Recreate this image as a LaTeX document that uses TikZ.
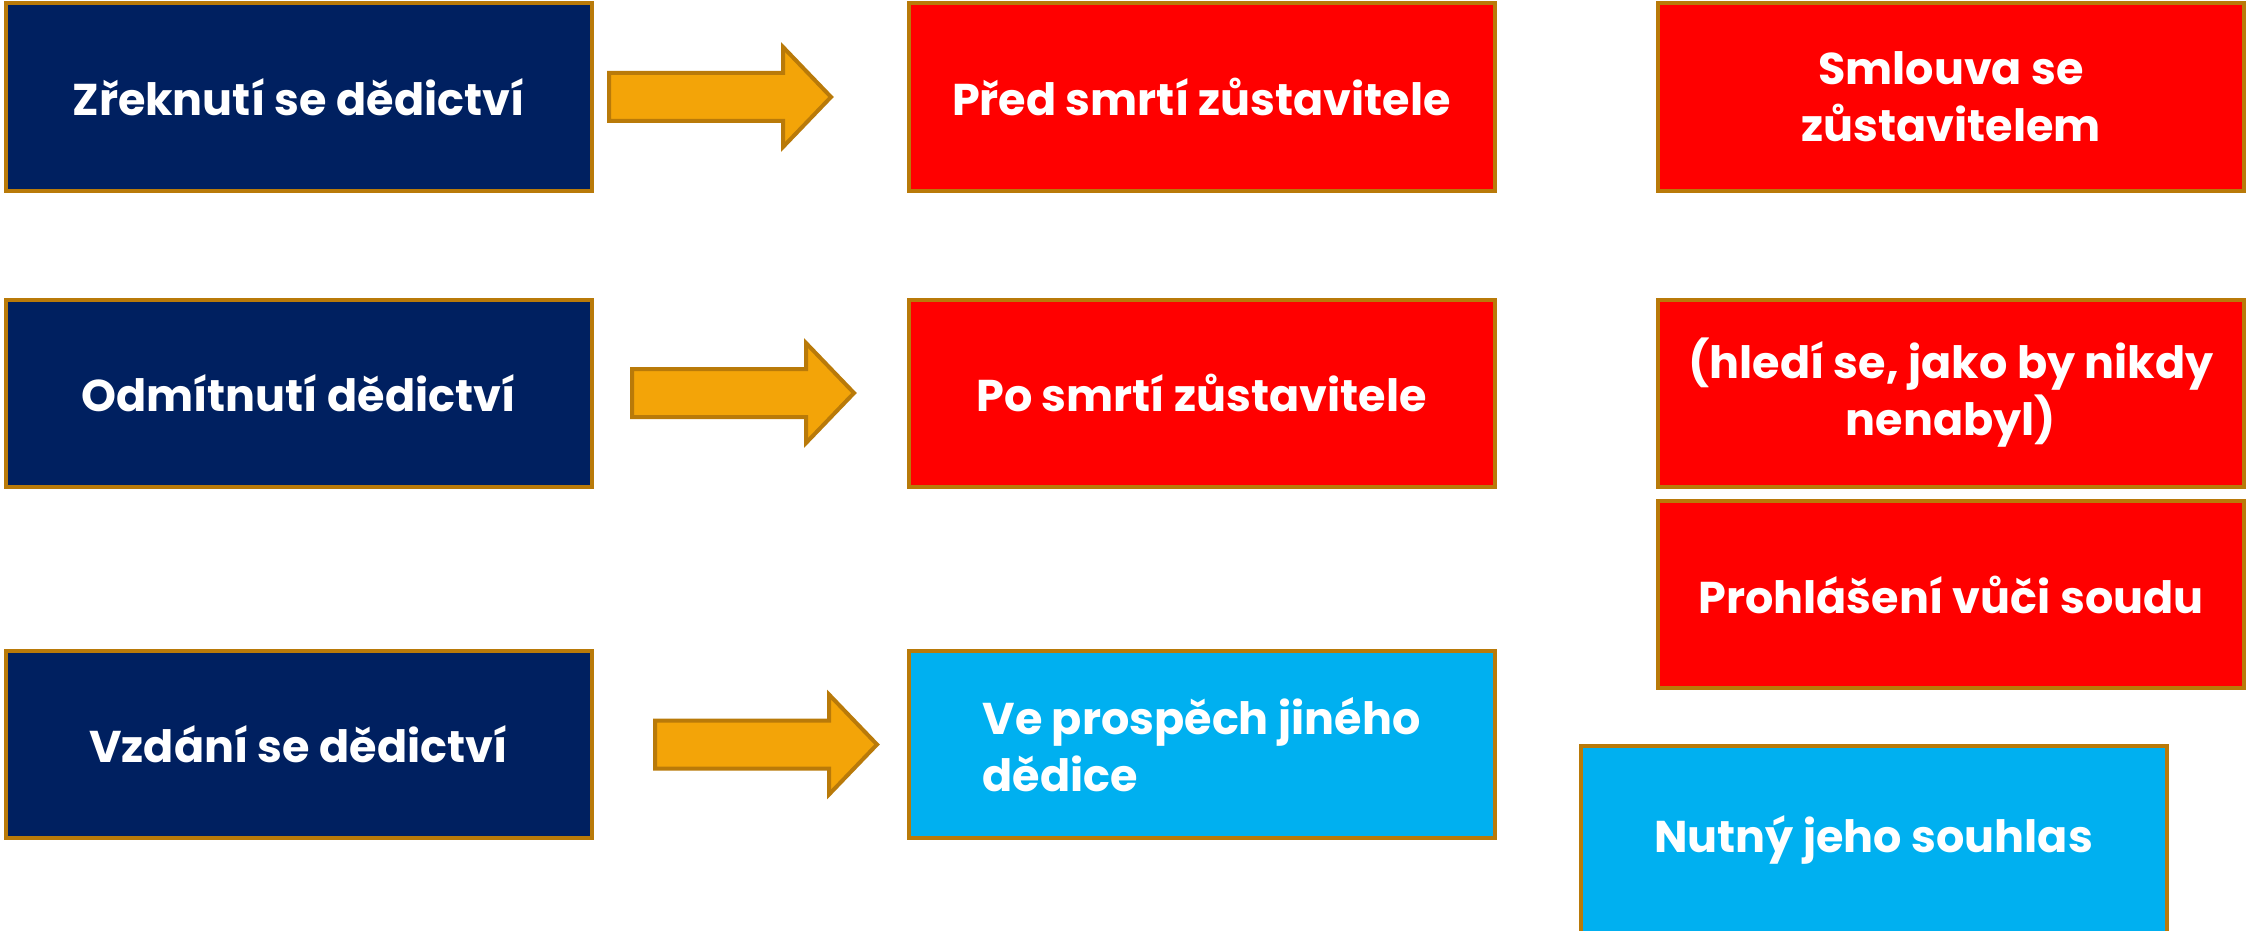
\documentclass[tikz,border=0pt]{standalone}
\usepackage{fontspec}
\setmainfont{Poppins}
\definecolor{navy}{HTML}{002060}
\definecolor{boxred}{HTML}{FF0000}
\definecolor{boxcyan}{HTML}{00B0F0}
\definecolor{edge}{HTML}{B97A09}
\definecolor{arrfill}{HTML}{F3A408}
\tikzset{
  box/.style={draw=edge, line width=4pt, minimum width=586pt, minimum height=187pt,
    inner sep=0pt, text=white, align=center, font=\fontsize{44.5}{57}\selectfont\bfseries},
  navybox/.style={box, fill=navy},
  redbox/.style={box, fill=boxred},
  cyanbox/.style={box, fill=boxcyan},
  blockarrow/.style={draw=edge, fill=arrfill, line width=4pt, line join=miter}
}
\begin{document}
\begin{tikzpicture}[x=1pt,y=-1pt]
\clip (0,0) rectangle (2249,931);
\fill[white] (0,0) rectangle (2249,931);
% left column
\node[navybox] (z) at (298.5,97) {Zřeknutí se dědictví};
\node[navybox] (o) at (298.5,393) {Odmítnutí dědictví};
\node[navybox] (v) at (298.5,744.5) {Vzdání se dědictví};
% middle column
\node[redbox] (pred) at (1201.5,97) {Před smrtí zůstavitele};
\node[redbox] (po) at (1201.5,393) {Po smrtí zůstavitele};
\node[cyanbox, align=left] (ve) at (1201.5,744.5) {Ve prospěch jiného\\dědice};
% right column
\node[redbox] (sm) at (1951,97) {Smlouva se\\zůstavitelem};
\node[redbox] (hl) at (1951,393) {(hledí se, jako by nikdy\\nenabyl)};
\node[redbox] (pr) at (1951,594.5) {Prohlášení vůči soudu};
\node[cyanbox] (nu) at (1873.5,839.5) {Nutný jeho souhlas};
% block arrows
\coordinate (a1) at (609,97);
\coordinate (a2) at (632,393);
\coordinate (a3) at (655,744.5);
\foreach \a in {a1,a2,a3}{
  \draw[blockarrow] (\a) ++(0,-24) -- ++(174,0) -- ++(0,-26) -- ++(48,50)
    -- ++(-48,50) -- ++(0,-26) -- ++(-174,0) -- cycle;
}
\end{tikzpicture}
\end{document}
